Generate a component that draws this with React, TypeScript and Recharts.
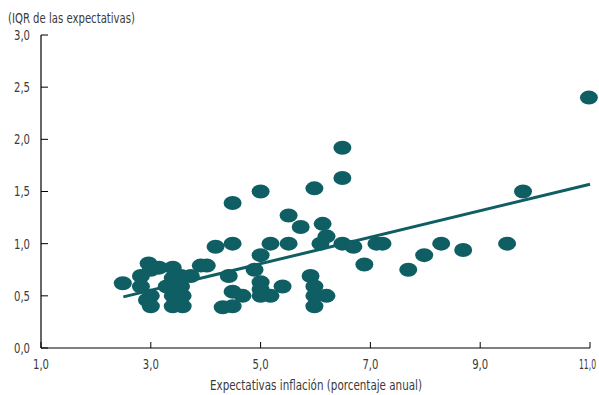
import React from 'react';
import { ScatterChart, Scatter, XAxis, YAxis } from 'recharts';

// expectativas de inflación (x) vs IQR de las expectativas (y)
const inflacion = [
  2.49, 2.82, 2.82, 2.96, 3.0, 2.93, 3.0, 3.0, 3.15, 3.29,
  3.4, 3.4, 3.4, 3.4, 3.55, 3.58, 3.58, 3.55, 3.73, 3.91,
  4.02, 4.18, 4.31, 4.42, 4.49, 4.49, 4.49, 4.49, 4.67, 4.89,
  5.0, 5.0, 5.0, 5.0, 5.0, 5.18, 5.18, 5.4, 5.51, 5.51,
  5.73, 5.91, 5.98, 5.98, 5.98, 5.98, 6.09, 6.13, 6.2, 6.2,
  6.49, 6.49, 6.49, 6.69, 6.89, 7.11, 7.22, 7.69, 7.98, 8.29,
  8.69, 9.49, 9.78, 10.98,
];
const iqr = [
  0.62, 0.69, 0.59, 0.81, 0.75, 0.46, 0.4, 0.5, 0.77, 0.59,
  0.77, 0.67, 0.5, 0.4, 0.59, 0.5, 0.4, 0.69, 0.69, 0.79,
  0.79, 0.97, 0.39, 0.69, 0.4, 0.54, 1.0, 1.39, 0.5, 0.75,
  1.5, 0.89, 0.63, 0.56, 0.5, 1.0, 0.5, 0.59, 1.27, 1.0,
  1.16, 0.69, 1.53, 0.59, 0.5, 0.4, 1.0, 1.19, 1.07, 0.5,
  1.92, 1.63, 1.0, 0.97, 0.8, 1.0, 1.0, 0.75, 0.89, 1.0,
  0.94, 1.0, 1.5, 2.4,
];

const trendX = [2.5, 11];
const trendY = [0.49, 1.57];

const xTicks = [1, 3, 5, 7, 9, 11];
const yTicks = [0, 0.5, 1, 1.5, 2, 2.5, 3];

const points = inflacion.map((x, i) => ({ x, y: iqr[i] }));
const trend = trendX.map((x, i) => ({ x, y: trendY[i] }));

const TEAL = '#0f5e64';
const TEXT = '#3a3a3a';
const FONT = '"DejaVu Sans Condensed", sans-serif';

const fmt = (v: number) => v.toFixed(1).replace('.', ',');

const Ellipse = (props: any) => {
  const { cx, cy } = props;
  return <ellipse cx={cx} cy={cy} rx={9} ry={7} fill={TEAL} />;
};

const Tick = (props: any) => {
  const { x, y, payload, textAnchor } = props;
  const s = fmt(payload.value);
  const wide = s.length === 4;
  return (
    <text
      x={wide ? x + 6 : x}
      y={y}
      dy="0.35em"
      textAnchor={wide ? 'end' : textAnchor}
      fill={TEXT}
      fontSize={14}
      fontFamily={FONT}
      textLength={wide ? 17 : 16}
      lengthAdjust="spacingAndGlyphs"
    >
      {s}
    </text>
  );
};

export default function App() {
  return (
    <div style={{ position: 'absolute', left: 0, top: 0 }}>
      <ScatterChart width={599} height={395} margin={{ top: 35, right: 9, left: 0, bottom: 0 }}>
        <XAxis
          type="number"
          dataKey="x"
          domain={[1, 11]}
          ticks={xTicks}
          height={47}
          tickSize={-6}
          tickMargin={22}
          tick={<Tick />}
          axisLine={{ stroke: '#000', strokeWidth: 1.2 }}
          tickLine={{ stroke: '#000' }}
          label={{
            content: () => (
              <text
                x={316}
                y={390}
                textAnchor="middle"
                fill={TEXT}
                fontSize={14}
                fontFamily={FONT}
                textLength={212}
                lengthAdjust="spacingAndGlyphs"
              >
                Expectativas inflación (porcentaje anual)
              </text>
            ),
          }}
        />
        <YAxis
          type="number"
          dataKey="y"
          domain={[0, 3]}
          ticks={yTicks}
          width={41}
          tickSize={-7}
          tickMargin={18}
          tick={<Tick />}
          axisLine={{ stroke: '#000', strokeWidth: 1.2 }}
          tickLine={{ stroke: '#000' }}
          label={{
            content: () => (
              <text
                x={8}
                y={23}
                fill={TEXT}
                fontSize={14}
                fontFamily={FONT}
                textLength={127}
                lengthAdjust="spacingAndGlyphs"
              >
                (IQR de las expectativas)
              </text>
            ),
          }}
        />
        <Scatter data={points} shape={Ellipse} isAnimationActive={false} />
        <Scatter
          data={trend}
          line={{ stroke: TEAL, strokeWidth: 3 }}
          shape={() => null}
          isAnimationActive={false}
        />
      </ScatterChart>
    </div>
  );
}
